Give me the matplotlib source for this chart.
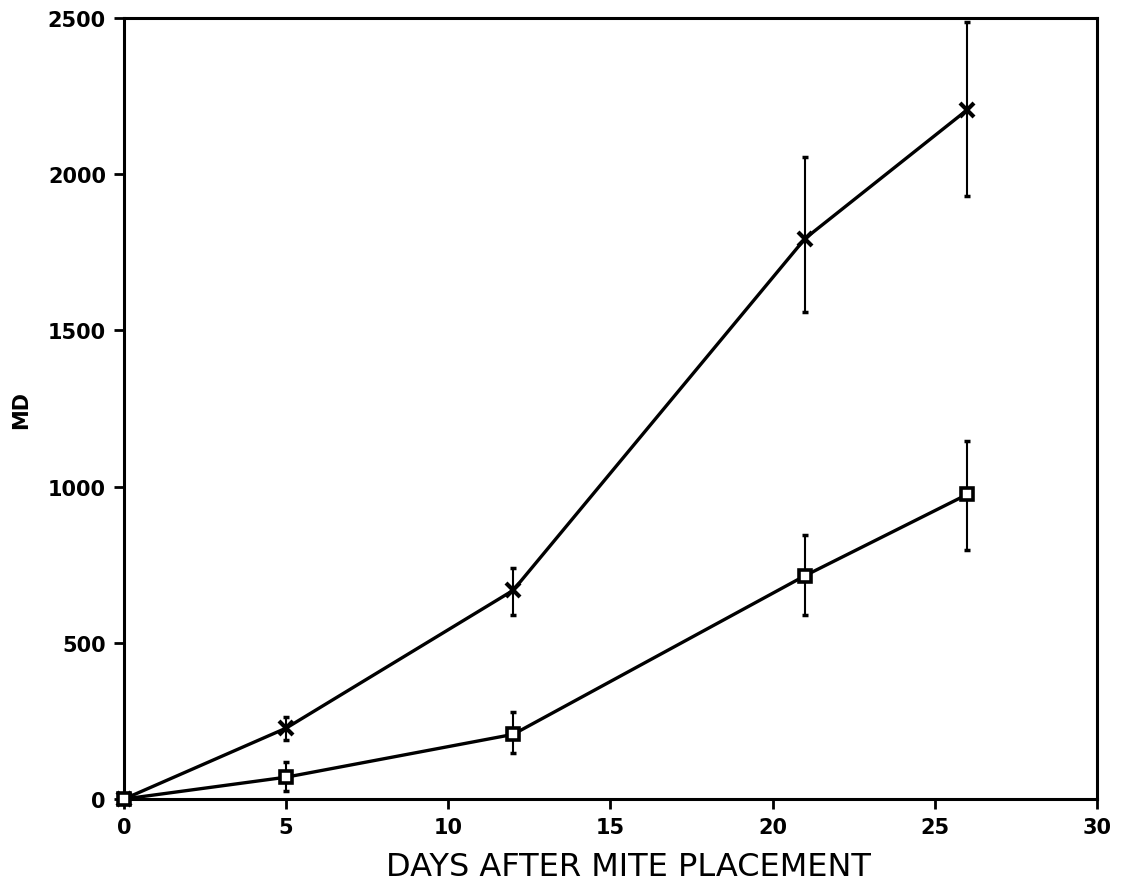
import matplotlib
matplotlib.use("Agg")
import matplotlib.pyplot as plt

# Mite-days (MD) accumulated after mite placement
days = [0, 5, 12, 21, 26]

md_x = [0, 227, 668, 1794, 2206]
md_x_lo = [0, 189, 588, 1559, 1929]
md_x_hi = [0, 261, 740, 2055, 2488]

md_sq = [0, 70, 207, 715, 975]
md_sq_lo = [0, 25, 147, 588, 796]
md_sq_hi = [0, 117, 277, 844, 1147]

x_ticks = [0, 5, 10, 15, 20, 25, 30]
y_ticks = [0, 500, 1000, 1500, 2000, 2500]

plt.rcParams["font.family"] = ["DejaVu Sans"]

fig = plt.figure(figsize=(11.23, 8.95), dpi=100)
ax = fig.add_axes([0.1104, 0.1061, 0.8664, 0.8727])


def draw_series(y, lo, hi, marker, ms, mew):
    yerr = [[v - l for v, l in zip(y, lo)], [h - v for v, h in zip(y, hi)]]
    ax.errorbar(days, y, yerr=yerr, fmt="none", ecolor="black",
                elinewidth=1.5, capsize=2, capthick=2.5, zorder=2)
    ax.plot(days, y, color="black", lw=2.4, marker=marker, ms=ms,
            mew=mew, mfc="white", mec="black", zorder=3, clip_on=False)


draw_series(md_x, md_x_lo, md_x_hi, "x", 10, 3.0)
draw_series(md_sq, md_sq_lo, md_sq_hi, "s", 8.5, 2.6)

ax.set_xlim(0, 30)
ax.set_ylim(0, 2500)
ax.set_xticks(x_ticks)
ax.set_yticks(y_ticks)
ax.tick_params(direction="out", length=7, width=2, pad=6,
               labelsize=15)
for lbl in ax.get_xticklabels() + ax.get_yticklabels():
    lbl.set_fontweight("bold")

for sp in ax.spines.values():
    sp.set_linewidth(2.2)

ax.set_xlabel("DAYS AFTER MITE PLACEMENT", fontsize=23, fontweight="medium",
              va="center")
ax.xaxis.set_label_coords(0.518, -0.087)
ax.set_ylabel("MD", fontsize=15, fontweight="bold", labelpad=12)

fig.savefig("out.png", dpi=100, facecolor="white")
